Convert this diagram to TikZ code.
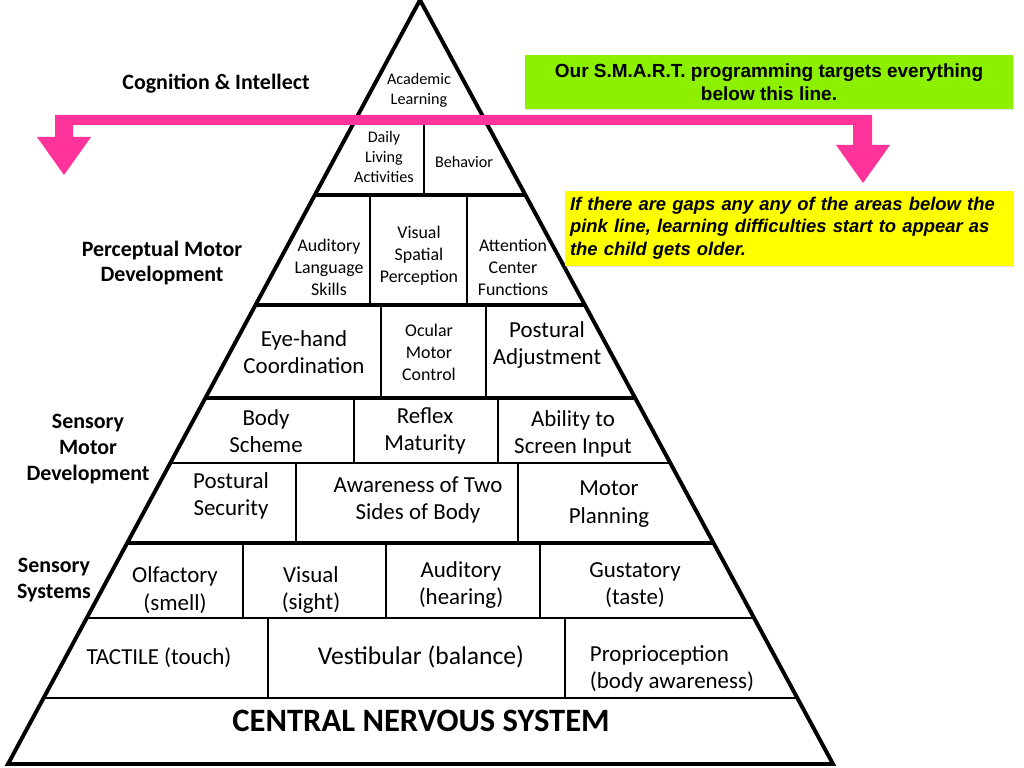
\documentclass[tikz,border=0pt]{standalone}
\usepackage{fontspec}
\setmainfont{Carlito}
\newfontfamily\arialfont{Liberation Sans}
\usetikzlibrary{calc,shadows}
\definecolor{pinkbar}{HTML}{FF3399}
\definecolor{smartgreen}{HTML}{8CF000}
\definecolor{gapyellow}{HTML}{FFFF00}
\tikzset{
  bigcell/.style={align=center, inner sep=0pt, font=\fontsize{16.3}{19.5}\selectfont},
  midcell/.style={align=center, inner sep=0pt, font=\fontsize{12.7}{15.6}\selectfont},
  smallcell/.style={align=center, inner sep=0pt, font=\fontsize{11.5}{14.2}\selectfont},
  grouplabel/.style={align=center, inner sep=0pt, font=\bfseries\fontsize{15.6}{18.4}\selectfont},
  rowline/.style={line width=1.3pt},
  groupline/.style={line width=2.4pt},
  notebox/.style={inner sep=0pt, draw=none, drop shadow={shadow xshift=1pt, shadow yshift=-1pt, opacity=0.25}},
}
\begin{document}
\begin{tikzpicture}[x=0.025cm, y=-0.025cm]
  \useasboundingbox (0,0) rectangle (1024,768);
  \coordinate (apex) at (420,0);
  \coordinate (bl) at (8,764);
  \coordinate (br) at (833,764);
  % horizontal rows of the pyramid
  \foreach \yy/\sty in {120/rowline, 195/groupline, 305/groupline, 398/groupline,
                        463/rowline, 543/groupline, 618/rowline, 698/rowline}
    \draw[\sty] ($(apex)!{\yy/764}!(bl)$) -- ($(apex)!{\yy/764}!(br)$);
  % cell dividers
  \foreach \xx/\ya/\yb in {424/120/195, 370/195/305, 467/195/305, 381/305/398, 486/305/398,
                           354/398/463, 498/398/463, 296/463/543, 518/463/543,
                           243/543/618, 386/543/618, 540/543/618, 268/618/698, 565/618/698}
    \draw[rowline] (\xx,\ya) -- (\xx,\yb);
  \draw[line width=2.8pt] (apex) -- (bl) -- (br) -- cycle;
  % pink line
  \fill[pinkbar] (55,115) -- (872,115) -- (872,145) -- (890,145) -- (863,183) -- (836,145)
    -- (853,145) -- (853,125) -- (73,125) -- (73,137) -- (91,137) -- (64,175) -- (37,137)
    -- (55,137) -- cycle;
  % cells
  \node[smallcell] (academic) at (419,90) {Academic\\Learning};
  \node[smallcell] (daily) at (384,157) {Daily\\Living\\Activities};
  \node[smallcell] (behavior) at (464,162) {Behavior};
  \node[midcell] (audlang) at (329,267) {Auditory\\Language\\Skills};
  \node[midcell] (visspat) at (419,256) {Visual\\Spatial\\Perception};
  \node[midcell] (attention) at (513,267) {Attention\\Center\\Functions};
  \node[bigcell] (eyehand) at (304,352) {Eye-hand\\Coordination};
  \node[midcell] (ocular) at (429,352) {Ocular\\Motor\\Control};
  \node[bigcell] (postadj) at (547,345) {Postural\\Adjustment};
  \node[bigcell] (bodysch) at (266,431) {Body\\Scheme};
  \node[bigcell] (reflex) at (425,431) {Reflex\\Maturity};
  \node[bigcell] (screen) at (573,434) {Ability to\\Screen Input};
  \node[bigcell] (postsec) at (231,496) {Postural\\Security};
  \node[bigcell] (twosides) at (418,500) {Awareness of Two\\Sides of Body};
  \node[bigcell] (planning) at (609,504) {Motor\\Planning};
  \node[bigcell] (olfactory) at (175,590) {Olfactory\\(smell)};
  \node[bigcell] (visual) at (311,590) {Visual\\(sight)};
  \node[bigcell] (auditory) at (461,585) {Auditory\\(hearing)};
  \node[bigcell] (gustatory) at (635,585) {Gustatory\\(taste)};
  \node[bigcell] (tactile) at (159,658) {TACTILE (touch)};
  \node[bigcell, font=\fontsize{18.2}{21}\selectfont] (vestib) at (421,657) {Vestibular (balance)};
  \node[bigcell, align=left] (proprio) at (672,669) {Proprioception\\(body awareness)};
  \node[inner sep=0pt, font=\bfseries\fontsize{23.2}{27}\selectfont] (cns) at (421,721) {CENTRAL NERVOUS SYSTEM};
  % group labels
  \node[grouplabel] (cognition) at (216,84) {Cognition \& Intellect};
  \node[grouplabel] (perceptual) at (162,263) {Perceptual Motor\\Development};
  \node[grouplabel] (sensmotor) at (88,449) {Sensory\\Motor\\Development};
  \node[grouplabel] (senssys) at (54,580) {Sensory\\Systems};
  % notes
  \node[notebox, fill=smartgreen, minimum width=488*0.025cm, minimum height=54*0.025cm,
        align=center, font=\arialfont\bfseries\fontsize{13.5}{16.3}\selectfont] (smart) at (769,82)
        {Our S.M.A.R.T. programming targets everything\\below this line.};
  \node[notebox, fill=gapyellow, inner xsep=5*0.025cm, text width=438*0.025cm,
        minimum height=75*0.025cm, align=left,
        font=\arialfont\bfseries\itshape\fontsize{13.1}{16}\selectfont] (gaps) at (789,228)
        {If there are gaps any any of the areas below the\\pink line, learning difficulties start to appear as\\the child gets older.};
\end{tikzpicture}
\end{document}
